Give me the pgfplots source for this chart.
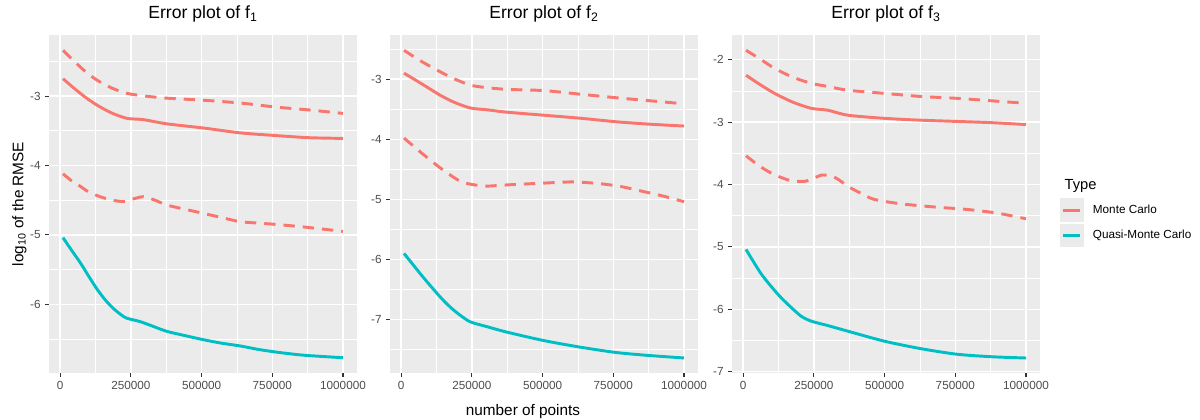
\documentclass[border=0pt]{standalone}
\usepackage{fontspec}
\setmainfont{Liberation Sans}
\usepackage{pgfplots}
\pgfplotsset{compat=1.18}
\definecolor{ggbg}{HTML}{EBEBEB}
\definecolor{grey20}{HTML}{333333}
\definecolor{grey30}{HTML}{4D4D4D}
\definecolor{mcred}{HTML}{F8766D}
\definecolor{qmcteal}{HTML}{00BFC4}
\pgfplotsset{
  ggstyle/.style={
    width=231pt, height=253.5pt, scale only axis,
    anchor=south west,
    xmin=-39500, xmax=1049500,
    axis background/.style={fill=ggbg},
    axis line style={draw=none},
    grid=both,
    major grid style={white, line width=1.07pt},
    minor grid style={white, line width=0.53pt},
    tick pos=left, tick align=outside,
    major tick length=2.75pt, minor tick length=0pt,
    tick style={color=grey20, line width=0.8pt},
    xtick={0,250000,500000,750000,1000000},
    xticklabels={0,250000,500000,750000,1000000},
    minor xtick={125000,375000,625000,875000},
    scaled x ticks=false,
    ticklabel style={font=\fontsize{8.8}{10}\selectfont, text=grey30},
    title style={font=\fontsize{13.2}{15}\selectfont, at={(0.5,1)}, anchor=base, yshift=6.2pt},
    every axis plot/.append style={line width=2.2pt, smooth, tension=0.45},
  },
  mcsolid/.style={color=mcred, solid},
  mcdash/.style={color=mcred, dash pattern=on 8.5pt off 6pt},
  qmc/.style={color=qmcteal, solid},
}
\begin{document}
\begin{tikzpicture}[x=1pt,y=1pt]
\path[use as bounding box] (0,0) rectangle (900,315);

% Panel 1
\begin{axis}[ggstyle, at={(36.75pt,35.25pt)},
  ymin=-6.99, ymax=-2.12,
  ytick={-6,-5,-4,-3}, yticklabels={-6,-5,-4,-3},
  minor ytick={-6.5,-5.5,-4.5,-3.5,-2.5},
  title={Error plot of f\textsubscript{1}}]
\addplot[mcdash] coordinates {(10000,-2.34) (50000,-2.50) (90000,-2.65) (130000,-2.77) (180000,-2.88) (235000,-2.96) (300000,-3.00) (377000,-3.03) (506000,-3.06) (636000,-3.10) (766000,-3.16) (880000,-3.20) (1000000,-3.25)};
\addplot[mcsolid] coordinates {(10000,-2.75) (50000,-2.89) (90000,-3.02) (130000,-3.13) (180000,-3.24) (235000,-3.32) (295000,-3.34) (377000,-3.40) (506000,-3.46) (636000,-3.53) (766000,-3.57) (880000,-3.60) (1000000,-3.61)};
\addplot[mcdash] coordinates {(10000,-4.12) (40000,-4.22) (71000,-4.30) (100000,-4.38) (141000,-4.45) (185000,-4.50) (224000,-4.52) (260000,-4.48) (295000,-4.45) (335000,-4.50) (377000,-4.57) (440000,-4.63) (506000,-4.69) (570000,-4.75) (636000,-4.81) (700000,-4.83) (766000,-4.85) (870000,-4.89) (1000000,-4.95)};
\addplot[qmc] coordinates {(10000,-5.04) (40000,-5.22) (71000,-5.40) (100000,-5.59) (130000,-5.78) (160000,-5.94) (188000,-6.06) (215000,-6.15) (235000,-6.20) (283000,-6.25) (330000,-6.32) (377000,-6.39) (440000,-6.45) (506000,-6.51) (570000,-6.56) (636000,-6.60) (700000,-6.65) (766000,-6.69) (850000,-6.73) (920000,-6.75) (1000000,-6.77)};
\end{axis}

% Panel 2
\begin{axis}[ggstyle, at={(292.5pt,35.25pt)},
  ymin=-7.89, ymax=-2.265,
  ytick={-7,-6,-5,-4,-3}, yticklabels={-7,-6,-5,-4,-3},
  minor ytick={-7.5,-6.5,-5.5,-4.5,-3.5,-2.5},
  title={Error plot of f\textsubscript{2}}]
\addplot[mcdash] coordinates {(10000,-2.52) (70000,-2.70) (139000,-2.88) (190000,-3.00) (245000,-3.10) (300000,-3.14) (374000,-3.17) (504000,-3.19) (633000,-3.25) (762000,-3.31) (880000,-3.36) (1000000,-3.41)};
\addplot[mcsolid] coordinates {(10000,-2.90) (70000,-3.07) (139000,-3.27) (190000,-3.39) (245000,-3.48) (304000,-3.51) (374000,-3.55) (504000,-3.60) (633000,-3.65) (762000,-3.71) (880000,-3.75) (1000000,-3.78)};
\addplot[mcdash] coordinates {(10000,-3.98) (70000,-4.22) (139000,-4.48) (209000,-4.70) (260000,-4.76) (304000,-4.78) (374000,-4.76) (504000,-4.73) (609000,-4.71) (704000,-4.74) (780000,-4.79) (856000,-4.87) (930000,-4.95) (1000000,-5.04)};
\addplot[qmc] coordinates {(10000,-5.90) (68000,-6.24) (100000,-6.42) (139000,-6.63) (175000,-6.80) (209000,-6.93) (245000,-7.04) (304000,-7.12) (374000,-7.21) (504000,-7.35) (633000,-7.46) (762000,-7.55) (880000,-7.60) (1000000,-7.64)};
\end{axis}

% Panel 3
\begin{axis}[ggstyle, at={(549pt,35.25pt)},
  ymin=-7.02, ymax=-1.605,
  ytick={-7,-6,-5,-4,-3,-2}, yticklabels={-7,-6,-5,-4,-3,-2},
  minor ytick={-6.5,-5.5,-4.5,-3.5,-2.5},
  title={Error plot of f\textsubscript{3}},
  legend style={at={(1.0649,0.5169)}, anchor=north west, draw=none, fill=none,
    inner sep=0pt, outer sep=0pt, row sep=1pt, column sep=6.75pt,
    font=\fontsize{8.8}{10}\selectfont, nodes={inner sep=0pt, text=black}},
  legend cell align=left,
  legend image code/.code={\fill[ggbg] (0pt,-7.875pt) rectangle (15.75pt,7.875pt); \draw[#1,line width=2.2pt] (1.5pt,0pt) -- (14.25pt,0pt);}]
\addplot[mcdash, forget plot] coordinates {(10000,-1.85) (60000,-1.99) (111000,-2.14) (175000,-2.28) (241000,-2.38) (300000,-2.43) (370000,-2.49) (499000,-2.54) (628000,-2.59) (757000,-2.62) (880000,-2.66) (1000000,-2.70)};
\addplot[mcsolid] coordinates {(10000,-2.25) (60000,-2.40) (111000,-2.54) (175000,-2.68) (241000,-2.78) (299000,-2.81) (370000,-2.89) (499000,-2.94) (628000,-2.97) (757000,-2.99) (880000,-3.01) (1000000,-3.04)};
\addlegendentry{Monte Carlo}
\addplot[mcdash, forget plot] coordinates {(10000,-3.54) (50000,-3.68) (88000,-3.79) (130000,-3.88) (170000,-3.94) (217000,-3.95) (250000,-3.90) (276000,-3.85) (311000,-3.86) (340000,-3.93) (370000,-4.03) (420000,-4.15) (464000,-4.24) (558000,-4.31) (675000,-4.36) (792000,-4.40) (900000,-4.46) (1000000,-4.55)};
\addplot[qmc] coordinates {(10000,-5.04) (65000,-5.44) (123000,-5.76) (165000,-5.95) (205000,-6.11) (241000,-6.19) (299000,-6.26) (370000,-6.35) (499000,-6.51) (628000,-6.63) (757000,-6.72) (880000,-6.76) (1000000,-6.78)};
\addlegendentry{Quasi-Monte Carlo}
\end{axis}

\node[anchor=base west, font=\fontsize{11}{13}\selectfont] at (795,173) {Type};
\node[anchor=base, rotate=90, font=\fontsize{11.5}{13}\selectfont] at (17.5,162) {log\textsubscript{10} of the RMSE};
\node[anchor=base, font=\fontsize{11.5}{13}\selectfont] at (392.25,3) {number of points};
\end{tikzpicture}
\end{document}
